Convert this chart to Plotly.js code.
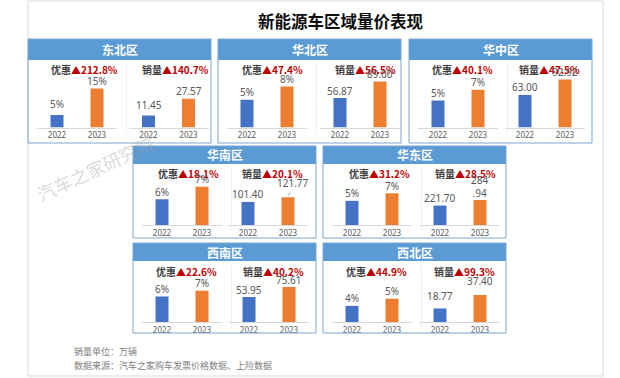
<!DOCTYPE html>
<html><head><meta charset="utf-8">
<script src="https://cdn.plot.ly/plotly-3.0.1.min.js"></script>
<style>html,body{margin:0;padding:0;background:#fff}</style>
</head><body><div id="chart" style="width:620px;height:378px"></div>
<script>
// ---------- data ----------
const chartTitle = '新能源车区域量价表现';
const regions = ['东北区','华北区','华中区','华南区','华东区','西南区','西北区'];
const years = ['2022','2023'];
const discount2022 = [0.048, 0.053, 0.050, 0.0634, 0.053, 0.058, 0.036];
const discount2023 = [0.150, 0.078, 0.070, 0.0749, 0.0695, 0.0711, 0.052];
const discountGrowth = ['212.8%','47.4%','40.1%','18.1%','31.2%','22.6%','44.9%'];
const sales2022 = [11.45, 56.87, 63.00, 101.40, 221.70, 53.95, 18.77];
const sales2023 = [27.57, 89.00, 92.92, 121.77, 284.94, 75.61, 37.40];
const salesGrowth = ['140.7%','56.5%','47.5%','20.1%','28.5%','40.2%','99.3%'];
const discountName = '优惠';
const salesName = '销量';
const footnotes = ['销量单位：万辆','数据来源：汽车之家购车发票价格数据、上险数据'];
const watermark = '汽车之家研究院';

// ---------- layout geometry (pixels) ----------
const W = 620, H = 378;
const px = x => x / W;
const py = y => 1 - y / H;
const boxX = [28, 218, 409, 133, 323, 133, 323];
const boxW = 183;
const boxRow = [0, 0, 0, 1, 1, 2, 2];
const rowGeom = [
  {top: 39, head: 60, bottom: 143, base: 127.5, title: 70},
  {top: 146, head: 164, bottom: 238, base: 225, title: 174},
  {top: 243, head: 261, bottom: 333, base: 322, title: 271}
];
const plotH = 50;
const titleRel = [[56.5,147],[54,147],[53,140],[56,139],[56,142],[53.5,140.5],[53.5,141.5]];
const leftRel = 29;
const rightRel = [120.5, 122, 116, 115, 117, 116, 117];
const discRange = [[0,0.1923],[0,0.0951],[0,0.093],[0.04,0.0856],[0,0.1096],[0,0.1136],[0,0.1116]];
const salesRange = [[0,48],[0,96.7],[0,96.8],[0,219.8],[0,570],[0,108],[0,69.3]];
// extra lift (px) of individual value labels: [panel][chart][year]
const labelLift = [[[4,0],[3,0]],[[0,0],[0,0]],[[0,0],[0,0]],[[0,0],[0,0]],[[0,0],[0,0]],[[0,0],[0,0]],[[0,0],[5,7]]];

const BLUE = '#4472C4', ORANGE = '#ED7D31', HEAD = '#5B9BD5', BORDER = '#7EA6CF';
const CJK = 'Noto Sans CJK SC, sans-serif';
const NUM = 'Noto Sans, sans-serif';

const traces = [];
const layout = {
  width: W, height: H, autosize: false,
  margin: {l: 0, r: 0, t: 0, b: 0},
  paper_bgcolor: '#ffffff', plot_bgcolor: 'rgba(0,0,0,0)',
  showlegend: false, bargap: 0.675,
  font: {family: CJK},
  shapes: [], annotations: []
};

layout.shapes.push({type:'rect', xref:'paper', yref:'paper', x0:px(28), x1:px(603), y0:py(376), y1:py(1),
  line:{color:'#d9d9d9', width:1}, fillcolor:'rgba(0,0,0,0)'});

layout.annotations.push({xref:'paper', yref:'paper', x:px(95), y:py(168), xanchor:'center', yanchor:'middle',
  text:watermark, showarrow:false, textangle:-25, font:{family:CJK, size:18, color:'rgba(160,160,160,0.4)'}});

layout.annotations.push({xref:'paper', yref:'paper', x:px(341), y:py(21), xanchor:'center', yanchor:'middle',
  text:'<b>'+chartTitle+'</b>', showarrow:false, font:{family:CJK, size:16.5, color:'#0d0d0d'}});

function fmtPct(v){ return Math.round(v*100) + '%'; }
function fmtNum(v){ return v.toFixed(2); }
const yearIdx = years.map((_, m) => m);

regions.forEach((name, i) => {
  const g = rowGeom[boxRow[i]];
  const bx = boxX[i];
  layout.shapes.push({type:'rect', xref:'paper', yref:'paper', x0:px(bx), x1:px(bx+boxW), y0:py(g.head), y1:py(g.top),
    line:{width:0}, fillcolor:HEAD, layer:'above'});
  layout.shapes.push({type:'rect', xref:'paper', yref:'paper', x0:px(bx), x1:px(bx+boxW), y0:py(g.bottom), y1:py(g.top),
    line:{color:BORDER, width:1}, fillcolor:'rgba(0,0,0,0)', layer:'above'});
  layout.shapes.push({type:'line', xref:'paper', yref:'paper', x0:px(bx+98.5), x1:px(bx+98.5), y0:py(g.base+6), y1:py(g.title-6),
    line:{color:'#f0f0f0', width:1}, layer:'below'});
  layout.annotations.push({xref:'paper', yref:'paper', x:px(bx+boxW/2), y:py((g.top+g.head)/2), xanchor:'center', yanchor:'middle',
    text:'<b>'+name+'</b>', showarrow:false, font:{family:CJK, size:12, color:'#ffffff'}});

  const groups = [
    {v:[discount2022[i], discount2023[i]], range:discRange[i], c0:leftRel, label:discountName, growth:discountGrowth[i], tRel:titleRel[i][0], fmt:fmtPct},
    {v:[sales2022[i], sales2023[i]], range:salesRange[i], c0:rightRel[i], label:salesName, growth:salesGrowth[i], tRel:titleRel[i][1], fmt:fmtNum}
  ];
  groups.forEach((gr, j) => {
    const k = 2*i + j + 1;
    const id = k === 1 ? '' : String(k);
    traces.push({type:'bar', x:yearIdx, y:gr.v, xaxis:'x'+id, yaxis:'y'+id, width:0.325,
      marker:{color:[BLUE, ORANGE]}, hoverinfo:'skip', showlegend:false});
    layout['xaxis'+id] = {domain:[px(bx+gr.c0-20), px(bx+gr.c0+60)], anchor:'y'+id, type:'linear',
      range:[-0.5, 1.5], tickvals:yearIdx, ticktext:years,
      showline:true, linecolor:'#d9d9d9', linewidth:1, ticks:'', showgrid:false, zeroline:false,
      tickfont:{family:NUM, size:8, color:'#595959'}, fixedrange:true};
    layout['yaxis'+id] = {domain:[py(g.base), py(g.base-plotH)], anchor:'x'+id, type:'linear', range:gr.range,
      showticklabels:false, showgrid:false, zeroline:false, showline:false, ticks:'', fixedrange:true};
    layout.annotations.push({xref:'paper', yref:'paper', x:px(bx+gr.tRel), y:py(g.title), xanchor:'center', yanchor:'middle',
      text:'<b>'+gr.label+'<span style="color:#C00000">▲'+gr.growth+'</span></b>', showarrow:false,
      font:{family:CJK, size:10, color:'#404040'}});
    gr.v.forEach((val, m) => {
      const ann = {xref:'x'+id, yref:'y'+id, x:yearIdx[m], y:val, text:gr.fmt(val), showarrow:false,
        xanchor:'center', yanchor:'bottom', yshift:-1.5 + labelLift[i][j][m], font:{family:NUM, size:10, color:'#595959'}};
      if (j === 1 && name === '华南区' && m === 1) {
        Object.assign(ann, {showarrow:true, arrowhead:0, arrowwidth:0.8, arrowcolor:'#a6a6a6', ax:5, ay:-14, standoff:1, yanchor:'middle', yshift:0});
      }
      if (j === 1 && name === '华东区' && m === 1) {
        ann.text = fmtNum(val).replace('.', '<br>.');
      }
      layout.annotations.push(ann);
    });
  });
});

footnotes.forEach((t, n) => {
  layout.annotations.push({xref:'paper', yref:'paper', x:px(72), y:py(351 + n*14), xanchor:'left', yanchor:'middle', text:t,
    showarrow:false, font:{family:CJK, size:9, color:'#808080'}});
});

Plotly.newPlot('chart', traces, layout, {displayModeBar:false, staticPlot:true});
</script></body></html>
